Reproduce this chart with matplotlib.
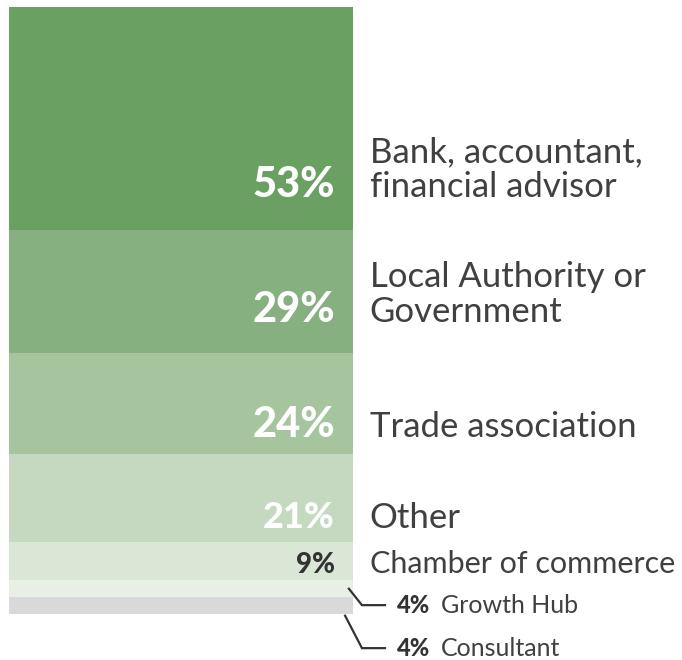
import matplotlib
matplotlib.use("Agg")
import matplotlib.pyplot as plt
import numpy as np

# Dados (percentagens por fonte de aconselhamento)
categorias = ["Bank, accountant,\nfinancial advisor", "Local Authority or\nGovernment",
              "Trade association", "Other", "Chamber of commerce", "Growth Hub", "Consultant"]
valores = [53, 29, 24, 21, 9, 4, 4]
cores = ["#6aa163", "#86b07f", "#a6c59f", "#c4d9bf", "#dae7d6", "#e8f0e5", "#d9d9d9"]

# estilo dos rótulos dentro da barra (só para os 5 primeiros)
tam_pct = [30, 30, 30, 26, 20]
cor_pct = ["white", "white", "white", "white", "#333333"]
desvio_pct = [7.9, 7.3, 4.0, 3.4, 1.7]   # distância da base do segmento até à baseline
tam_cat = [25, 25, 25, 25, 22]

plt.rcParams["font.family"] = ["Lato", "DejaVu Sans"]

fig = plt.figure(figsize=(6.82, 6.60), dpi=100)
ax = fig.add_axes([9 / 682, (660 - 614) / 660, 344 / 682, 607 / 660])

base = np.concatenate([[0], np.cumsum(valores)[:-1]])
ax.bar([0] * len(valores), valores, bottom=base, width=1.0, color=cores, linewidth=0)

total = sum(valores)
ax.set_xlim(-0.5, 0.5)
ax.set_ylim(total, 0)
ax.axis("off")

trans = ax.get_yaxis_transform()
texto = "#404040"

for i in range(5):
    fundo = base[i] + valores[i]
    y = fundo - desvio_pct[i]
    ax.text(0.948, y, f"{valores[i]}%", transform=trans, ha="right", va="baseline",
            fontsize=tam_pct[i], fontweight="black", color=cor_pct[i])
    ax.text(1.049, y, categorias[i], transform=trans, ha="left", va="baseline",
            fontsize=tam_cat[i], color=texto, linespacing=1.12)

# Rótulos com linhas de chamada para os segmentos pequenos
chamadas = [
    # (x inicio, y inicio, x cotovelo, y fim)
    (0.988, base[5] + valores[5] / 2, 1.026, 141.9),
    (0.977, total + 0.4, 1.026, 152.1),
]
for (x0, y0, x1, y1), i in zip(chamadas, [5, 6]):
    ax.plot([x0, x1, 1.093], [y0, y1, y1], transform=trans, color="#333333",
            lw=1.6, clip_on=False, solid_joinstyle="miter")
    ax.text(1.128, y1, f"{valores[i]}%", transform=trans, ha="left", va="center",
            fontsize=17, fontweight="black", color="#333333")
    ax.text(1.255, y1, categorias[i], transform=trans, ha="left", va="center",
            fontsize=18, color=texto)

fig.savefig("out.png", dpi=100)
